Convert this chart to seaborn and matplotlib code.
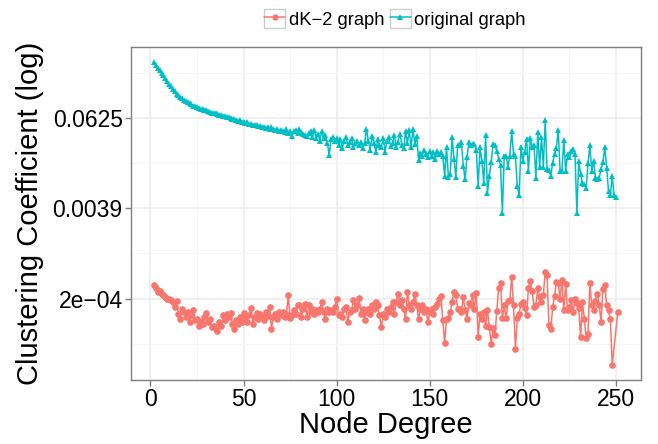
import numpy as np
import pandas as pd
import seaborn as sns
import matplotlib
matplotlib.use("Agg")
import matplotlib.pyplot as plt
from matplotlib.ticker import FixedLocator, NullFormatter
from matplotlib.legend_handler import HandlerLine2D
from matplotlib.lines import Line2D
from matplotlib.patches import Rectangle

# values, stored as log2 of the clustering coefficient
orig_deg = list(range(2, 251))
orig_log2 = [
    -1.53, -1.65, -1.78, -1.9, -2.02, -2.12, -2.25, -2.38, -2.5, -2.6,
    -2.7, -2.82, -2.92, -3.0, -3.08, -3.12, -3.2, -3.25, -3.3, -3.35,
    -3.4, -3.45, -3.48, -3.53, -3.55, -3.6, -3.62, -3.65, -3.67, -3.7,
    -3.72, -3.76, -3.78, -3.8, -3.82, -3.86, -3.88, -3.9, -3.93, -3.96,
    -3.98, -4.0, -4.03, -4.06, -4.1, -4.12, -4.1, -4.16, -4.2, -4.22,
    -4.2, -4.28, -4.25, -4.3, -4.32, -4.3, -4.36, -4.34, -4.4, -4.38,
    -4.45, -4.4, -4.48, -4.42, -4.5, -4.55, -4.47, -4.58, -4.52, -4.6,
    -4.62, -4.5, -4.68, -4.56, -4.82, -4.6, -4.55, -4.65, -4.5, -4.62,
    -4.7, -4.75, -4.8, -4.68, -4.6, -4.85, -4.55, -4.9, -4.7, -5.0,
    -4.6, -4.9, -4.75, -5.1, -5.65, -4.95, -4.85, -5.0, -4.9, -5.2,
    -4.95, -5.35, -5.0, -4.85, -5.2, -5.05, -4.9, -5.3, -5.1, -5.0,
    -5.2, -5.05, -5.35, -5.1, -4.5, -5.0, -5.4, -4.8, -5.1, -5.5,
    -4.95, -5.2, -5.3, -4.9, -5.5, -5.0, -4.85, -5.25, -5.1, -4.75,
    -5.3, -5.05, -4.7, -5.2, -5.35, -4.6, -5.1, -4.55, -5.3, -4.5,
    -5.15, -4.8, -5.85, -5.55, -5.7, -5.4, -5.6, -5.75, -5.45, -5.7,
    -5.5, -5.8, -5.45, -5.6, -5.5, -5.7, -6.55, -5.3, -6.6, -6.5,
    -4.84, -5.8, -6.6, -5.2,
    -5.22, -5.07, -6.12, -6.72, -5.75, -5.07, -5.22, -5.15, -5.15, -5.4,
    -7.01, -5.3, -5.9, -6.87, -4.75, -7.31, -6.57, -5.97, -5.15, -5.22,
    -5.45, -5.8, -6.09, -8.2, -5.67, -5.67, -6.15, -5.67, -4.6, -5.6,
    -5.67, -7.01, -7.39, -5.3, -5.9, -5.5, -4.93, -6.34, -4.9, -5.3,
    -5.22, -6.64, -4.63, -6.19, -4.85, -6.15, -4.1, -6.27, -6.3, -6.57,
    -6.0, -5.6, -5.34, -4.55, -6.34, -6.34, -4.96, -6.34, -5.6, -5.75,
    -5.45, -5.37, -5.6, -8.2, -5.9, -6.49, -6.87, -6.94, -7.09, -6.0,
    -5.22, -6.34, -5.9, -6.64, -6.72, -6.64, -6.27, -5.97, -5.3,
    -6.2, -7.24, -7.43, -6.57, -7.43, -7.49,
]

dk2_deg = list(range(2, 249)) + [251]
dk2_log2 = [
    -11.38, -11.53, -11.7, -11.67, -11.78, -11.85, -11.93, -12.0, -12.03, -12.07,
    -12.15, -12.37, -12.12, -12.67, -12.89, -12.44, -12.59, -12.81, -12.59, -13.04,
    -12.74, -12.52, -12.96, -12.89, -13.19, -13.04, -13.11, -12.81, -12.62, -13.04,
    -12.89, -13.26, -13.19, -13.33, -13.41, -13.04, -13.19, -12.74, -12.96, -12.67,
    -12.81, -12.62, -13.11, -13.36, -12.96, -13.11, -12.81, -13.04, -12.62, -12.81,
    -13.04, -12.74, -12.41, -13.11, -12.81, -12.62, -12.89, -12.67, -12.77, -12.96,
    -12.59, -12.77, -12.37, -13.33, -12.81, -12.67, -12.89, -12.59, -12.74, -12.59,
    -12.81, -12.67, -11.85, -12.86, -12.74, -12.52, -12.67, -12.3, -12.3, -12.81,
    -12.44, -12.22, -12.81, -12.3, -12.59, -12.44, -12.67, -12.52, -12.59, -12.44,
    -12.15, -12.59, -12.89, -12.44, -12.59, -12.52, -12.59, -12.37, -12.0, -12.74,
    -12.67, -12.81, -12.44, -12.37, -13.04, -12.59, -12.52, -12.07, -12.44, -12.3,
    -11.97, -12.67, -12.44, -12.96, -12.59, -12.44, -12.67, -12.3, -12.44, -12.15,
    -12.3, -12.74, -13.26, -12.67, -12.81, -12.44, -12.59, -12.37, -12.15, -12.67,
    -12.15, -11.78, -12.3, -12.07, -12.44, -12.89, -11.7, -12.3, -12.44, -12.15,
    -11.78, -12.3, -12.89, -12.44, -12.3, -12.59, -12.44, -13.04, -12.59, -12.44,
    -12.67, -12.37, -12.22, -12.0, -11.88, -12.96, -13.96, -12.89, -12.86, -12.59,
    -12.15, -11.7, -11.85, -12.44, -12.44,
    -12.6, -11.93, -12.5, -12.89, -12.2, -12.3, -11.85, -12.44, -11.73, -13.7,
    -12.7, -12.89, -12.59, -13.19, -12.52, -13.26, -14.0, -13.3, -13.6, -12.56,
    -11.53, -11.29, -12.86, -12.3, -12.86, -12.12, -12.07, -11.04, -12.3, -14.22,
    -12.86, -12.67, -12.22, -12.15, -12.4, -12.71, -11.53, -11.23, -11.67, -12.37,
    -12.3, -11.53, -11.93, -12.15, -11.82, -10.81, -10.96, -13.16, -13.36, -12.37,
    -11.88, -11.26, -11.29, -12.0, -11.19, -12.52, -11.33, -12.52, -12.37, -12.07,
    -12.6, -12.03, -12.18, -12.41, -13.7, -12.15, -12.89, -13.75, -13.56, -11.29,
    -12.3, -12.5, -12.1, -11.78, -12.27, -13.04, -11.59, -11.38, -12.3, -12.5,
    -12.92, -14.93,
    -12.59,
]

series_names = ["dK\u22122 graph", "original graph"]
colors = ["#F8766D", "#00BFC4"]
y_ticks = [2.0 ** -4, 2.0 ** -8, 2.0 ** -12]
y_tick_labels = ["0.0625", "0.0039", "2e\u221204"]
x_ticks = [0, 50, 100, 150, 200, 250]

df = pd.concat([
    pd.DataFrame({"degree": dk2_deg, "cc": 2.0 ** np.array(dk2_log2), "graph": series_names[0]}),
    pd.DataFrame({"degree": orig_deg, "cc": 2.0 ** np.array(orig_log2), "graph": series_names[1]}),
])

sns.set_theme(style="white")
plt.rcParams["font.family"] = ["Liberation Sans", "DejaVu Sans"]
plt.rcParams["text.color"] = "black"
plt.rcParams["axes.labelcolor"] = "black"

fig = plt.figure(figsize=(6.58, 4.44), dpi=100)
ax = fig.add_axes([131 / 658, 1 - 380 / 444, 510 / 658, 333 / 444])

sns.lineplot(data=df, x="degree", y="cc", hue="graph", style="graph",
             hue_order=series_names, style_order=series_names,
             markers={series_names[0]: "o", series_names[1]: "^"}, dashes=False,
             palette=colors, linewidth=1.1, markersize=4.8, markeredgewidth=0,
             estimator=None, legend=False, ax=ax, zorder=3)

ax.set_yscale("log", base=2)

# ggplot-like 5% expansion
xmin, xmax = df["degree"].min(), df["degree"].max()
pad = (xmax - xmin) * 0.05
ax.set_xlim(xmin - pad, xmax + pad)
lmin, lmax = np.log2(df["cc"].min()), np.log2(df["cc"].max())
lpad = (lmax - lmin) * 0.05
ax.set_ylim(2.0 ** (lmin - lpad), 2.0 ** (lmax + lpad))

ax.set_yticks(y_ticks)
ax.set_yticklabels(y_tick_labels)
ax.yaxis.set_minor_locator(FixedLocator([2.0 ** -2, 2.0 ** -6, 2.0 ** -10, 2.0 ** -14]))
ax.yaxis.set_minor_formatter(NullFormatter())
ax.set_xticks(x_ticks)
ax.xaxis.set_minor_locator(FixedLocator([25, 75, 125, 175, 225]))

ax.grid(which="major", color="#EBEBEB", linewidth=1.1, zorder=0)
ax.grid(which="minor", color="#F5F5F5", linewidth=0.7, zorder=0)
ax.set_axisbelow(True)

for s in ax.spines.values():
    s.set_color("#7F7F7F")
    s.set_linewidth(1.0)
ax.tick_params(which="major", direction="out", length=4, width=1, color="#7F7F7F",
               labelsize=16.5, labelcolor="black", pad=2,
               bottom=True, left=True)
ax.tick_params(which="minor", length=0)

ax.set_xlabel("Node Degree", fontsize=21, labelpad=0)
ax.set_ylabel("Clustering Coefficient (log)", fontsize=21, labelpad=6)


class BoxedHandler(HandlerLine2D):
    def create_artists(self, legend, orig_handle, xdescent, ydescent, width, height, fontsize, trans):
        arts = super().create_artists(legend, orig_handle, xdescent, ydescent, width, height, fontsize, trans)
        box = Rectangle((-xdescent, -ydescent), width, height, fill=False,
                        edgecolor="#CCCCCC", linewidth=1.0, transform=trans)
        return [box] + list(arts)


handles = [
    Line2D([], [], color=colors[0], marker="o", markersize=4.5, markeredgewidth=0, linewidth=1.1),
    Line2D([], [], color=colors[1], marker="^", markersize=4.5, markeredgewidth=0, linewidth=1.1),
]
fig.legend(handles, series_names, loc="center", bbox_to_anchor=(395 / 658, 1 - 19 / 444),
           ncol=2, frameon=False, fontsize=13.2, numpoints=1, labelcolor="black",
           handlelength=1.15, handleheight=1.15, handletextpad=0.2, columnspacing=0.3,
           borderpad=0.1, handler_map={Line2D: BoxedHandler()})

fig.savefig("out.png", dpi=100)
